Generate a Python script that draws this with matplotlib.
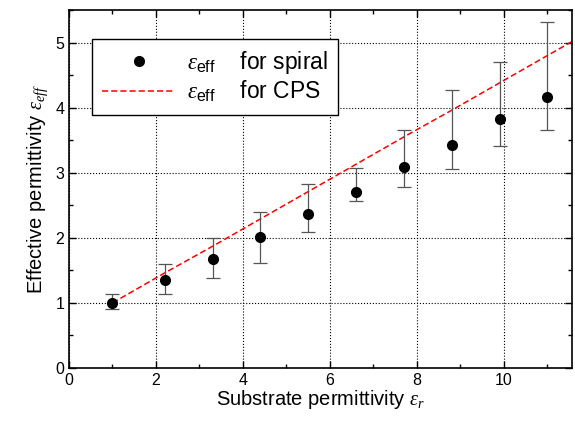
import numpy as np
import matplotlib
matplotlib.use('Agg')
import matplotlib.pyplot as plt
from matplotlib.ticker import MultipleLocator

plt.rcParams['font.family'] = ['Liberation Sans', 'DejaVu Sans']
plt.rcParams['mathtext.fontset'] = 'custom'
plt.rcParams['mathtext.rm'] = 'Liberation Sans'
plt.rcParams['mathtext.it'] = 'Liberation Serif:italic'

# measured effective permittivity of the spiral
er = [1.0, 2.2, 3.3, 4.4, 5.5, 6.6, 7.7, 8.8, 9.9, 11.0]
eff_spiral = [1.00, 1.35, 1.68, 2.02, 2.37, 2.71, 3.09, 3.43, 3.82, 4.16]
err_hi = [1.14, 1.60, 1.99, 2.39, 2.82, 3.08, 3.65, 4.27, 4.70, 5.32]
err_lo = [0.90, 1.13, 1.39, 1.62, 2.09, 2.57, 2.78, 3.06, 3.41, 3.65]

# CPS line
er_cps = [1.0, 2.2, 3.3, 4.4, 5.5, 6.6, 7.7, 8.8, 9.9, 11.0, 12.0]
eff_cps = [1.00, 1.46, 1.87, 2.29, 2.71, 3.13, 3.55, 3.96, 4.38, 4.80, 5.18]

fig = plt.figure(figsize=(5.75, 4.23), dpi=100)
ax = fig.add_axes([69/575, 1-368/423, 502.7/575, 358/423])

yerr = [np.array(eff_spiral) - np.array(err_lo), np.array(err_hi) - np.array(eff_spiral)]
ax.errorbar(er, eff_spiral, yerr=yerr, fmt='none', ecolor='#555555',
            elinewidth=0.9, capsize=5, capthick=0.9, zorder=3)
ax.plot(er, eff_spiral, 'o', color='black', ms=7, zorder=4,
        label=r'$\mathit{\varepsilon}_{\rm eff}$    for spiral')
ax.plot(er_cps, eff_cps, '--', color='red', lw=1.1, dashes=(4, 2), zorder=2,
        label=r'$\mathit{\varepsilon}_{\rm eff}$    for CPS')

ax.set_xlim(0, 11.56)
ax.set_ylim(0, 5.5)
ax.xaxis.set_major_locator(MultipleLocator(2))
ax.xaxis.set_minor_locator(MultipleLocator(1))
ax.yaxis.set_major_locator(MultipleLocator(1))
ax.yaxis.set_minor_locator(MultipleLocator(0.5))
ax.tick_params(which='both', direction='in', top=True, right=True, labelsize=11.5, width=1)
ax.tick_params(which='major', length=5)
ax.tick_params(which='minor', length=3)
ax.grid(True, which='major', color='black', linestyle=':', linewidth=0.8)
for s in ax.spines.values():
    s.set_linewidth(1.2)

ax.set_xlabel(r'Substrate permittivity $\mathit{\varepsilon_r}$', fontsize=14.5, labelpad=0)
ax.set_ylabel(r'Effective permittivity $\mathit{\varepsilon_{eff}}$', fontsize=14.5, labelpad=4)

leg = ax.legend(loc='upper left', bbox_to_anchor=(0.045, 0.919), fontsize=16.5,
                frameon=True, fancybox=False, edgecolor='black', framealpha=1,
                handlelength=3.2, borderpad=0.45, labelspacing=0.12, handletextpad=0.5,
                borderaxespad=0)
leg.get_frame().set_linewidth(1.0)

fig.savefig('out.png', dpi=100)
